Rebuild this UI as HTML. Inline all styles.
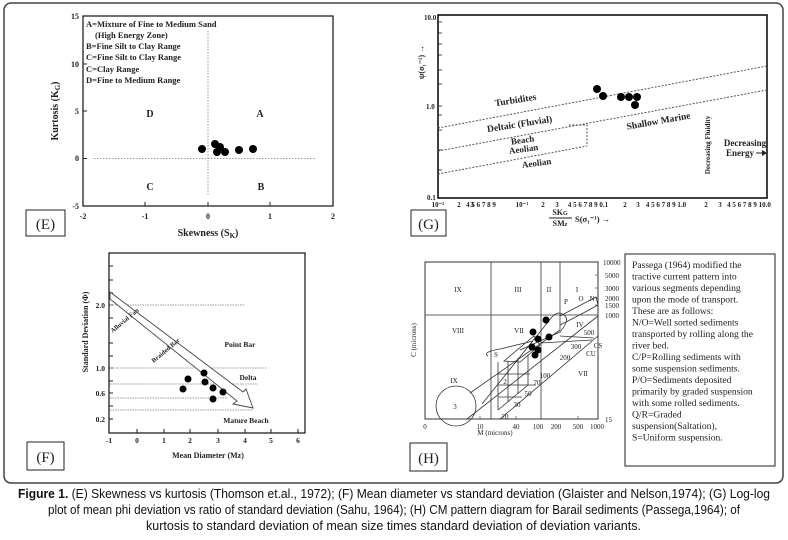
<!DOCTYPE html>
<html><head><meta charset="utf-8"><style>
html,body{margin:0;padding:0;background:#fff;}
svg{display:block;}
.s{font-family:"Liberation Serif",serif;font-weight:bold;fill:#222;}
.n{font-family:"Liberation Serif",serif;fill:#222;}
.c{font-family:"Liberation Sans",sans-serif;fill:#111;}
</style></head><body>
<svg width="788" height="540" viewBox="0 0 788 540" xmlns="http://www.w3.org/2000/svg">
<rect x="4" y="3" width="779" height="480" rx="7" fill="none" stroke="#444" stroke-width="1.5"/>

<!-- Panel E -->
<g>
<rect x="83" y="16" width="250" height="190" fill="none" stroke="#222" stroke-width="1.3"/>
<line x1="208" y1="31" x2="208" y2="196" stroke="#999" stroke-dasharray="1.5,1.5"/>
<line x1="94" y1="158.5" x2="315" y2="158.5" stroke="#999" stroke-dasharray="1.5,1.5"/>
<g stroke="#222"><line x1="83" y1="64" x2="87" y2="64"/><line x1="83" y1="111" x2="87" y2="111"/><line x1="83" y1="158.5" x2="87" y2="158.5"/>
<line x1="145" y1="206" x2="145" y2="202"/><line x1="208" y1="206" x2="208" y2="202"/><line x1="270" y1="206" x2="270" y2="202"/></g>
<g class="s" font-size="8" text-anchor="end"><text x="79" y="19">15</text><text x="79" y="67">10</text><text x="79" y="114">5</text><text x="79" y="161">0</text><text x="79" y="209">-5</text></g>
<g class="s" font-size="8" text-anchor="middle"><text x="83" y="219">-2</text><text x="145" y="219">-1</text><text x="208" y="219">0</text><text x="270" y="219">1</text><text x="333" y="219">2</text></g>
<g class="s" font-size="8.5"><text x="86" y="27">A=Mixture of Fine to Medium Sand</text><text x="95" y="38">(High Energy Zone)</text><text x="86" y="49">B=Fine Silt to Clay Range</text><text x="86" y="60">C=Fine Silt to Clay Range</text><text x="86" y="72">C=Clay Range</text><text x="86" y="83">D=Fine to Medium Range</text></g>
<g class="s" font-size="10" text-anchor="middle"><text x="150" y="117">D</text><text x="260" y="117">A</text><text x="150" y="190">C</text><text x="261" y="190">B</text></g>
<g fill="#000"><circle cx="202" cy="149" r="4"/><circle cx="215" cy="144" r="4"/><circle cx="220" cy="147" r="4"/><circle cx="217" cy="152" r="4"/><circle cx="225" cy="152" r="4"/><circle cx="239" cy="150" r="4"/><circle cx="253" cy="149" r="4"/></g>
<text class="s" font-size="10" x="208" y="236" text-anchor="middle">Skewness (S<tspan font-size="7" dy="2">K</tspan><tspan dy="-2">)</tspan></text>
<text class="s" font-size="10" transform="translate(58,111) rotate(-90)" text-anchor="middle">Kurtosis (K<tspan font-size="7" dy="2">G</tspan><tspan dy="-2">)</tspan></text>
<rect x="26" y="210" width="39" height="26" fill="none" stroke="#222"/>
<text class="n" font-size="15" x="45.5" y="229" text-anchor="middle">(E)</text>
</g>

<!-- Panel G -->
<g>
<rect x="438" y="15" width="329" height="183" fill="none" stroke="#111" stroke-width="1.6"/>
<g stroke="#222" stroke-width="0.8">
<line x1="438" y1="106" x2="442" y2="106"/><line x1="438" y1="22" x2="442" y2="22"/><line x1="438" y1="33" x2="442" y2="33"/><line x1="438" y1="44" x2="442" y2="44"/><line x1="438" y1="55" x2="442" y2="55"/><line x1="438" y1="70" x2="442" y2="70"/><line x1="438" y1="84" x2="442" y2="84"/><line x1="438" y1="115" x2="442" y2="115"/><line x1="438" y1="130" x2="442" y2="130"/><line x1="438" y1="150" x2="442" y2="150"/><line x1="438" y1="170" x2="442" y2="170"/>
</g>
<g stroke="#555" stroke-dasharray="2,1.5" fill="none" stroke-width="1">
<line x1="438" y1="128" x2="767" y2="66"/><line x1="438" y1="151" x2="767" y2="90"/><line x1="438" y1="174" x2="587" y2="146"/>
<polyline points="569,125 587,125 587,146"/>
</g>
<g class="s" font-size="7"><text x="424" y="20">10.0</text><text x="426" y="109">1.0</text><text x="427" y="200">0.1</text></g>
<g class="s" font-size="7" text-anchor="middle"><text x="438" y="207">10⁻²</text><text x="459" y="207">2</text><text x="472" y="207">3</text><text x="481" y="207">4 5 6 7 8 9</text><text x="522" y="207">10⁻¹</text><text x="543" y="207">2</text><text x="557" y="207">3</text><text x="588" y="207">4 5 6 7 8 9 0.1</text><text x="625" y="207">2</text><text x="638" y="207">3</text><text x="666" y="207">4 5 6 7 8 9 1.0</text><text x="706" y="207">2</text><text x="720" y="207">3</text><text x="749" y="207">4 5 6 7 8 9 10.0</text></g>
<text class="s" font-size="9.5" transform="translate(516,103) rotate(-9)" text-anchor="middle">Turbidites</text>
<text class="s" font-size="9.5" transform="translate(520,127) rotate(-9)" text-anchor="middle">Deltaic (Fluvial)</text>
<text class="s" font-size="9" transform="translate(523,143) rotate(-8)" text-anchor="middle">Beach</text>
<text class="s" font-size="9" transform="translate(524,152) rotate(-8)" text-anchor="middle">Aeolian</text>
<text class="s" font-size="9" transform="translate(537,166) rotate(-8)" text-anchor="middle">Aeolian</text>
<text class="s" font-size="9.5" transform="translate(659,124) rotate(-10)" text-anchor="middle">Shallow Marine</text>
<text class="s" font-size="7" transform="translate(710,145) rotate(-90)" text-anchor="middle">Decreasing Fluidity</text>
<text class="s" font-size="9" x="745" y="146" text-anchor="middle">Decreasing</text>
<text class="s" font-size="9" x="740" y="156" text-anchor="middle">Energy</text>
<path d="M756 153 L763 153" stroke="#222"/><path d="M762 150 L767 153 L762 156 Z" fill="#222"/>
<g fill="#000"><circle cx="597" cy="89" r="4"/><circle cx="603" cy="96" r="4"/><circle cx="621" cy="97" r="4"/><circle cx="629" cy="97" r="4"/><circle cx="637" cy="97" r="4"/><circle cx="635" cy="105" r="4"/></g>
<text class="s" font-size="8" transform="translate(424,62) rotate(-90)" text-anchor="middle">ψ(σ₁⁻¹) →</text>
<text class="s" font-size="8" x="560" y="215" text-anchor="middle">SK<tspan font-size="6">G</tspan></text>
<line x1="549" y1="218" x2="572" y2="218" stroke="#222"/>
<text class="s" font-size="8" x="560" y="226" text-anchor="middle">SM<tspan font-size="6">z</tspan></text>
<text class="s" font-size="8.5" x="575" y="222">S(σ₁⁻¹) →</text>
<rect x="411" y="210" width="35" height="26" fill="none" stroke="#222"/>
<text class="n" font-size="15" x="428.5" y="229" text-anchor="middle">(G)</text>
</g>

<!-- Panel F -->
<g>
<rect x="109" y="253" width="196" height="180" fill="none" stroke="#222" stroke-width="1.3"/>
<g stroke="#222"><line x1="109" y1="266" x2="113" y2="266"/><line x1="109" y1="280" x2="113" y2="280"/><line x1="109" y1="293" x2="113" y2="293"/><line x1="109" y1="305" x2="113" y2="305"/><line x1="109" y1="318" x2="113" y2="318"/><line x1="109" y1="343" x2="113" y2="343"/><line x1="109" y1="356" x2="113" y2="356"/><line x1="109" y1="368" x2="113" y2="368"/><line x1="109" y1="381" x2="113" y2="381"/><line x1="109" y1="393" x2="113" y2="393"/><line x1="109" y1="406" x2="113" y2="406"/><line x1="109" y1="419" x2="113" y2="419"/>
<line x1="137" y1="433" x2="137" y2="429"/><line x1="164" y1="433" x2="164" y2="429"/><line x1="190" y1="433" x2="190" y2="429"/><line x1="218" y1="433" x2="218" y2="429"/><line x1="245" y1="433" x2="245" y2="429"/><line x1="271" y1="433" x2="271" y2="429"/><line x1="298" y1="433" x2="298" y2="429"/></g>
<g stroke="#999" stroke-dasharray="1.5,1"><line x1="110" y1="305" x2="245" y2="305"/><line x1="110" y1="368" x2="267" y2="368"/><line x1="110" y1="384" x2="258" y2="384"/><line x1="110" y1="398" x2="228" y2="398"/><line x1="110" y1="410" x2="253" y2="410"/></g>
<polygon points="110,292 243,392 246,389 253,408 233,404 237,401 110,299" fill="#fff" stroke="#444" stroke-width="0.9"/>
<g class="s" font-size="7.5" text-anchor="end"><text x="105" y="308">2.0</text><text x="105" y="371">1.0</text><text x="105" y="396">0.6</text><text x="105" y="422">0.2</text></g>
<g class="s" font-size="7.5" text-anchor="middle"><text x="109" y="443">-1</text><text x="137" y="443">0</text><text x="164" y="443">1</text><text x="190" y="443">2</text><text x="218" y="443">3</text><text x="245" y="443">4</text><text x="271" y="443">5</text><text x="298" y="443">6</text></g>
<text class="s" font-size="6.5" transform="translate(126,322) rotate(-40)" text-anchor="middle">Alluvial Fan</text>
<text class="s" font-size="6.5" transform="translate(167,352) rotate(-40)" text-anchor="middle">Braided Bar</text>
<g class="s" font-size="7.5" text-anchor="middle"><text x="240" y="347">Point Bar</text><text x="248" y="380">Delta</text><text x="246" y="423">Mature Beach</text></g>
<g fill="#000"><circle cx="183" cy="389" r="3.5"/><circle cx="188" cy="379" r="3.5"/><circle cx="204" cy="373" r="3.5"/><circle cx="205" cy="382" r="3.5"/><circle cx="213" cy="388" r="3.5"/><circle cx="223" cy="392" r="3.5"/><circle cx="213" cy="399" r="3.5"/></g>
<text class="s" font-size="8" x="208" y="458" text-anchor="middle">Mean Diameter (Mz)</text>
<text class="s" font-size="8" transform="translate(88,332) rotate(-90)" text-anchor="middle">Standard Deviation (Φ)</text>
<rect x="27" y="442" width="37" height="28" fill="none" stroke="#222"/>
<text class="n" font-size="15" x="45.5" y="462" text-anchor="middle">(F)</text>
</g>

<!-- Panel H -->
<g>
<rect x="425" y="262" width="173" height="157" fill="none" stroke="#333" stroke-width="1"/>
<g stroke="#333" stroke-width="0.8" fill="none">
<line x1="491" y1="262" x2="491" y2="419"/><line x1="541" y1="262" x2="541" y2="419"/><line x1="560" y1="262" x2="560" y2="315"/><line x1="425" y1="315" x2="598" y2="315"/>
<line x1="467" y1="419" x2="598" y2="316"/>
<line x1="500" y1="419" x2="598" y2="336"/>
<line x1="470" y1="393" x2="560" y2="330"/>
<line x1="560" y1="330" x2="560" y2="315"/>
<circle cx="456" cy="406" r="20"/>
<path d="M482 404 L548 322 Q556 310 562 314 Q572 318 560 332 L520 350"/>
<path d="M560 316 Q575 308 596 297 L598 305 Q580 315 560 325"/>
<path d="M504 361 L534 336 L540 345 L520 362 Z" />
<path d="M488 356 Q482 352 500 349 L533 341"/>
<line x1="541" y1="343" x2="592" y2="340"/>
<line x1="560" y1="336" x2="594" y2="338"/>
<line x1="498" y1="362" x2="498" y2="410"/><line x1="498" y1="410" x2="528" y2="385"/>
<line x1="498" y1="385" x2="536" y2="385"/><line x1="498" y1="397" x2="522" y2="397"/><line x1="498" y1="374" x2="530" y2="374"/>
<line x1="508" y1="362" x2="508" y2="402"/><line x1="518" y1="358" x2="518" y2="394"/><line x1="528" y1="355" x2="528" y2="385"/>
</g>
<g stroke="#333" stroke-width="0.6"><line x1="598" y1="275" x2="595" y2="275"/><line x1="598" y1="288" x2="595" y2="288"/><line x1="598" y1="298" x2="595" y2="298"/><line x1="598" y1="305" x2="595" y2="305"/>
<line x1="480" y1="419" x2="480" y2="416"/><line x1="516" y1="419" x2="516" y2="416"/><line x1="578" y1="419" x2="578" y2="416"/></g>
<g class="n" font-size="7"><text x="603" y="265">10000</text><text x="605" y="278">5000</text><text x="605" y="291">3000</text><text x="605" y="301">2000</text><text x="605" y="308">1500</text><text x="605" y="318">1000</text><text x="605" y="422">15</text></g>
<g class="n" font-size="7" text-anchor="middle"><text x="425" y="429">0</text><text x="480" y="429">10</text><text x="516" y="429">40</text><text x="538" y="429">100</text><text x="556" y="429">200</text><text x="578" y="429">500</text><text x="597" y="429">1000</text></g>
<g class="n" font-size="7" text-anchor="middle"><text x="458" y="292">IX</text><text x="518" y="292">III</text><text x="549" y="292">II</text><text x="577" y="292">I</text><text x="581" y="301">O</text><text x="592" y="301">N</text><text x="566" y="304">P</text>
<text x="458" y="333">VIII</text><text x="519" y="333">VII</text><text x="580" y="327">IV</text><text x="583" y="376">VII</text><text x="454" y="383">IX</text><text x="455" y="409">3</text><text x="505" y="384">2</text>
<text x="496" y="357">S</text><text x="589" y="335">500</text><text x="598" y="348">CS</text><text x="576" y="349">300</text><text x="591" y="356">CU</text><text x="565" y="360">200</text><text x="545" y="378">100</text><text x="537" y="385">70</text><text x="528" y="396">50</text><text x="517" y="407">30</text><text x="505" y="419">20</text></g>
<g fill="#000"><circle cx="546" cy="320" r="3.5"/><circle cx="533" cy="332" r="3.5"/><circle cx="538" cy="339" r="3.5"/><circle cx="549" cy="337" r="3.5"/><circle cx="532" cy="347" r="3.5"/><circle cx="538" cy="350" r="3.5"/><circle cx="535" cy="355" r="3.5"/></g>
<text class="n" font-size="7" x="495" y="435" text-anchor="middle">M (microns)</text>
<text class="n" font-size="7" transform="translate(416,340) rotate(-90)" text-anchor="middle">C (microns)</text>
<rect x="410" y="443" width="37" height="28" fill="none" stroke="#222"/>
<text class="n" font-size="15" x="428.5" y="463" text-anchor="middle">(H)</text>
<rect x="625" y="254" width="150" height="212" fill="none" stroke="#222"/>
<g class="n" font-size="9.6"><text x="632" y="268">Passega (1964) modified the</text><text x="632" y="279.5">tractive  current pattern into</text><text x="632" y="291">various segments depending</text><text x="632" y="302.5">upon the mode of transport.</text><text x="632" y="314">These are as follows:</text><text x="632" y="325.5">N/O=Well sorted sediments</text><text x="632" y="337">transported  by rolling along the</text><text x="632" y="348.5">river bed.</text><text x="632" y="360">C/P=Rolling sediments with</text><text x="632" y="371.5">some suspension sediments.</text><text x="632" y="383">P/O=Sediments deposited</text><text x="632" y="394.5">primarily by graded suspension</text><text x="632" y="406">with some rolled sediments.</text><text x="632" y="417.5">Q/R=Graded</text><text x="632" y="429">suspension(Saltation),</text><text x="632" y="440.5">S=Uniform suspension.</text></g>
</g>

<!-- Caption -->
<g class="c" font-size="12.5">
<text x="18" y="498" textLength="752" lengthAdjust="spacingAndGlyphs"><tspan font-weight="bold">Figure 1.</tspan> (E) Skewness vs kurtosis (Thomson et.al., 1972); (F) Mean diameter vs standard deviation (Glaister and Nelson,1974); (G) Log-log</text>
<text x="48" y="514" textLength="692" lengthAdjust="spacingAndGlyphs">plot of mean phi deviation vs ratio of standard deviation (Sahu, 1964); (H) CM pattern diagram for Barail sediments (Passega,1964); of</text>
<text x="146" y="530" textLength="495" lengthAdjust="spacingAndGlyphs">kurtosis to standard deviation of mean size times standard deviation of deviation variants.</text>
</g>
</svg>
</body></html>
